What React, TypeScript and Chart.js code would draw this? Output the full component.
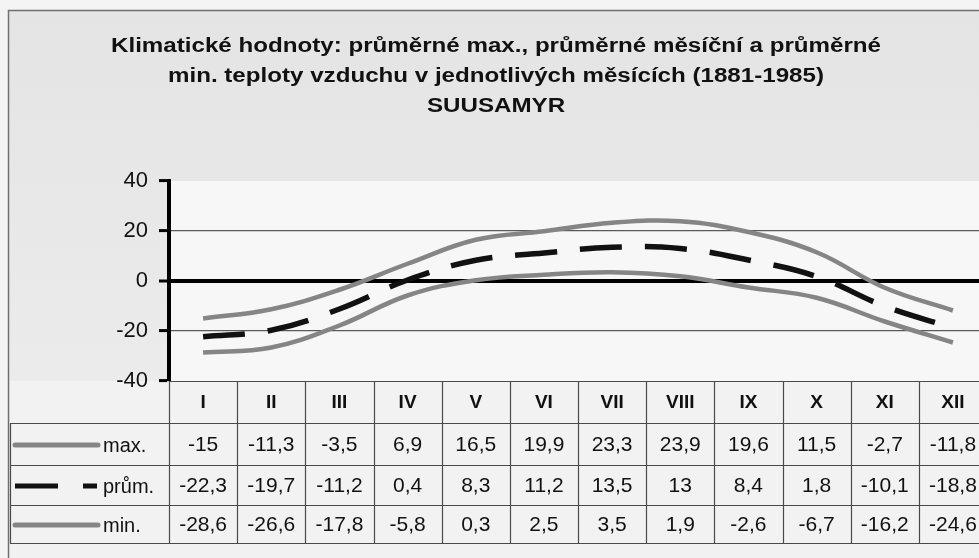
import React, { useEffect, useRef } from "react";
import { Chart, registerables } from "chart.js";

Chart.register(...registerables);

// ---- data ----
const TITLE_LINES = [
  "Klimatické hodnoty: průměrné max., průměrné měsíční a průměrné",
  "min. teploty vzduchu v jednotlivých měsících (1881-1985)",
  "SUUSAMYR",
];
const MONTHS = ["I", "II", "III", "IV", "V", "VI", "VII", "VIII", "IX", "X", "XI", "XII"];
const SERIES_NAMES = ["max.", "prům.", "min."];
const MAX_T = [-15, -11.3, -3.5, 6.9, 16.5, 19.9, 23.3, 23.9, 19.6, 11.5, -2.7, -11.8];
const AVG_T = [-22.3, -19.7, -11.2, 0.4, 8.3, 11.2, 13.5, 13, 8.4, 1.8, -10.1, -18.8];
const MIN_T = [-28.6, -26.6, -17.8, -5.8, 0.3, 2.5, 3.5, 1.9, -2.6, -6.7, -16.2, -24.6];
const Y_MIN = -40;
const Y_MAX = 40;
const Y_STEP = 20;

// ---- layout / style ----
const W = 1010;
const H = 558;
const FONT = '"Liberation Sans", Arial, Helvetica, sans-serif';
const GRAY_LINE = "#858585";
const DARK = "#111111";
const TABLE_LINE = "#4a4a4a";

const fmt = (v: number) => String(v).replace(".", ",");

function stretchedText(
  ctx: CanvasRenderingContext2D,
  text: string,
  cx: number,
  y: number,
  font: string,
  sx: number,
  align: CanvasTextAlign = "center",
  baseline: CanvasTextBaseline = "alphabetic"
) {
  ctx.save();
  ctx.font = font;
  ctx.textAlign = align;
  ctx.textBaseline = baseline;
  ctx.translate(cx, y);
  ctx.scale(sx, 1);
  ctx.fillText(text, 0, 0);
  ctx.restore();
}

const backgroundPlugin = {
  id: "scanBackground",
  beforeDraw(chart: any) {
    const ctx: CanvasRenderingContext2D = chart.ctx;
    const ca = chart.chartArea;
    ctx.save();
    ctx.fillStyle = "#f4f4f4";
    ctx.fillRect(0, 0, W, H);
    const g = ctx.createLinearGradient(0, 10, 0, H);
    g.addColorStop(0, "#e4e4e4");
    g.addColorStop(0.65, "#ebebeb");
    g.addColorStop(1, "#f1f1f1");
    ctx.fillStyle = g;
    ctx.fillRect(8, 10, W - 8, H - 10);
    ctx.strokeStyle = "#6f6f6f";
    ctx.lineWidth = 1.5;
    ctx.beginPath();
    ctx.moveTo(8.5, H);
    ctx.lineTo(8.5, 10.5);
    ctx.lineTo(W, 10.5);
    ctx.stroke();
    // plot area
    ctx.fillStyle = "#f7f7f7";
    ctx.fillRect(ca.left, ca.top, ca.right - ca.left, ca.bottom - ca.top);
    // table area
    ctx.fillStyle = "#f2f2f2";
    ctx.fillRect(10, ca.bottom, W - 10, 162);
    // title
    ctx.fillStyle = DARK;
    const tFont = `bold 20px ${FONT}`;
    ctx.font = tFont;
    const sx = 770 / ctx.measureText(TITLE_LINES[0]).width;
    TITLE_LINES.forEach((line, i) => {
      stretchedText(ctx, line, 496, 52 + i * 30, tFont, sx);
    });
    ctx.restore();
  },
};

const tablePlugin = {
  id: "dataTable",
  afterDraw(chart: any) {
    const ctx: CanvasRenderingContext2D = chart.ctx;
    const ca = chart.chartArea;
    const xs = chart.scales.x;
    const n = MONTHS.length;
    const colW = (ca.right - ca.left) / n;
    const rows = [0, 42, 84, 124, 162].map((d) => ca.bottom + d);
    ctx.save();
    ctx.strokeStyle = TABLE_LINE;
    ctx.lineWidth = 1.2;
    ctx.beginPath();
    // header top
    ctx.moveTo(ca.left, rows[0] + 0.5);
    ctx.lineTo(W, rows[0] + 0.5);
    for (let r = 1; r < rows.length; r++) {
      ctx.moveTo(10, rows[r] + 0.5);
      ctx.lineTo(W, rows[r] + 0.5);
    }
    ctx.moveTo(10.5, rows[1]);
    ctx.lineTo(10.5, rows[4]);
    for (let i = 0; i <= n; i++) {
      const x = Math.round(ca.left + i * colW) + 0.5;
      ctx.moveTo(x, rows[0]);
      ctx.lineTo(x, rows[4]);
    }
    ctx.stroke();

    // header labels
    ctx.fillStyle = DARK;
    ctx.textAlign = "center";
    ctx.textBaseline = "middle";
    ctx.font = `bold 19px ${FONT}`;
    MONTHS.forEach((m, i) => {
      ctx.fillText(m, xs.getPixelForValue(i), (rows[0] + rows[1]) / 2 + 1);
    });
    // values
    const series = [MAX_T, AVG_T, MIN_T];
    ctx.font = `21px ${FONT}`;
    series.forEach((vals, r) => {
      const cy = (rows[r + 1] + rows[r + 2]) / 2 + 1;
      vals.forEach((v, i) => {
        ctx.fillText(fmt(v), xs.getPixelForValue(i), cy);
      });
    });
    // legend keys
    ctx.textAlign = "left";
    ctx.font = `20px ${FONT}`;
    series.forEach((_, r) => {
      const cy = (rows[r + 1] + rows[r + 2]) / 2;
      ctx.fillText(SERIES_NAMES[r], 103, cy + 2);
    });
    ctx.lineWidth = 5;
    ctx.strokeStyle = GRAY_LINE;
    ctx.lineCap = "round";
    [0, 2].forEach((r) => {
      const cy = (rows[r + 1] + rows[r + 2]) / 2 + 1;
      ctx.beginPath();
      ctx.moveTo(15, cy);
      ctx.lineTo(98, cy);
      ctx.stroke();
    });
    ctx.strokeStyle = DARK;
    ctx.lineCap = "butt";
    const cyAvg = (rows[2] + rows[3]) / 2 + 1;
    ctx.beginPath();
    ctx.moveTo(15, cyAvg);
    ctx.lineTo(58, cyAvg);
    ctx.moveTo(83, cyAvg);
    ctx.lineTo(97, cyAvg);
    ctx.stroke();
    ctx.restore();
  },
};

export default function App() {
  const ref = useRef<HTMLCanvasElement | null>(null);

  useEffect(() => {
    if (!ref.current) return;
    const chart = new Chart(ref.current, {
      type: "line",
      data: {
        labels: MONTHS,
        datasets: [
          {
            label: SERIES_NAMES[1],
            data: AVG_T,
            borderColor: DARK,
            borderWidth: 5.5,
            borderDash: [42, 23],
            borderCapStyle: "butt",
            tension: 0.4,
            pointRadius: 0,
            fill: false,
          },
          {
            label: SERIES_NAMES[0],
            data: MAX_T,
            borderColor: GRAY_LINE,
            borderWidth: 4.5,
            tension: 0.4,
            pointRadius: 0,
            fill: false,
          },
          {
            label: SERIES_NAMES[2],
            data: MIN_T,
            borderColor: GRAY_LINE,
            borderWidth: 4.5,
            tension: 0.4,
            pointRadius: 0,
            fill: false,
          },
        ],
      },
      options: {
        responsive: false,
        animation: false,
        devicePixelRatio: 1,
        layout: { padding: { top: 181, bottom: 177, left: 0, right: 23 } },
        plugins: {
          legend: { display: false },
          title: { display: false },
          tooltip: { enabled: false },
        },
        scales: {
          x: {
            type: "category",
            display: false,
            offset: true,
          },
          y: {
            min: Y_MIN,
            max: Y_MAX,
            afterFit: (s: any) => {
              s.width = 169;
            },
            ticks: {
              stepSize: Y_STEP,
              color: DARK,
              padding: 11,
              font: { family: FONT, size: 22 },
            },
            grid: {
              color: (c: any) => {
                const v = c.tick ? c.tick.value : null;
                if (v === 0) return "#000000";
                if (v === 20 || v === -20) return "#5a5a5a";
                return "rgba(0,0,0,0)";
              },
              lineWidth: (c: any) => (c.tick && c.tick.value === 0 ? 4 : 1.2),
              tickColor: "#000000",
              tickWidth: 3,
              tickLength: 10,
            },
            border: { color: "#000000", width: 4 },
          },
        },
      },
      plugins: [backgroundPlugin, tablePlugin],
    } as any);
    return () => chart.destroy();
  }, []);

  return (
    <div
      style={{
        position: "fixed",
        left: 0,
        top: 0,
        width: 979,
        height: 558,
        overflow: "hidden",
        background: "#f4f4f4",
      }}
    >
      <canvas
        ref={ref}
        width={W}
        height={H}
        style={{ width: W, height: H, display: "block" }}
      />
    </div>
  );
}
